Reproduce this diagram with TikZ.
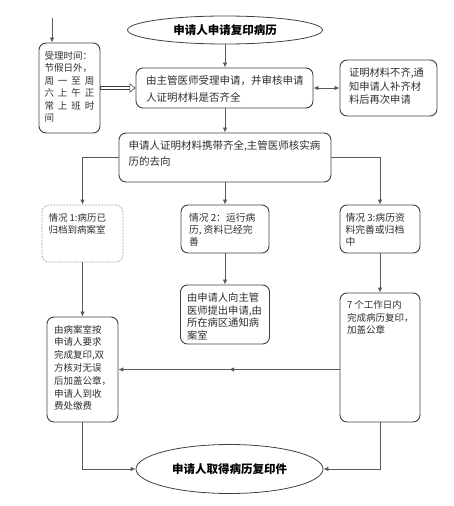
\documentclass[tikz,border=0pt]{standalone}
\usepackage{fontspec}
\setmainfont{Noto Sans CJK SC}
\usepackage{xcolor}
\usetikzlibrary{arrows.meta, positioning, shapes.geometric, calc, decorations.markings}

\definecolor{linegray}{HTML}{404040}
\definecolor{wiregray}{HTML}{5A5A5A}
\definecolor{textgray}{HTML}{2E2E2E}
\newcommand{\cardtext}[3]{\parbox[c][#2pt][t]{#1pt}{\raggedright #3}}
\newcommand{\fs}[2]{\fontsize{#1}{#2}\selectfont}
\newcommand{\spreadline}[1]{\makebox[\linewidth][s]{#1}}

\begin{document}
\begin{tikzpicture}[
  x=1pt, y=-1pt,
  card/.style={draw=linegray, line width=0.9pt, rounded corners=7pt, inner ysep=8pt, text=textgray, font=\fs{9.5}{12.5}},
  draft/.style={card, draw=gray!70, line width=0.7pt, dash pattern=on 2pt off 1.2pt},
  term/.style={ellipse, draw=linegray, line width=0.8pt, inner sep=1pt, font=\bfseries\fs{11.5}{14}},
  edge/.style={-{Latex[length=5pt, width=4.5pt]}, draw=wiregray, line width=0.8pt},
  hollow/.style={draw=linegray, line width=0.6pt, double=white, double distance=2.6pt, {Bar[width=4pt]}-{Triangle[open, length=6pt, width=9pt]}},
  midarrow/.style={postaction={decorate}, decoration={markings, mark=at position 0.5 with {\arrow{Latex[length=5pt, width=4.5pt]}}}}
]
\useasboundingbox (0,0) rectangle (453,506);

\node[term, minimum width=195pt, minimum height=28pt] (apply) at (225,30) {申请人申请复印病历};
\node[card, inner xsep=5.5pt] (hours) at (69.5,88) {\cardtext{50}{74}{受理时间：\\节假日外，\\\spreadline{周 一 至 周}\\\spreadline{六 上 午 正}\\\spreadline{常 上 班 时}\\间}};
\node[card, inner xsep=10pt, font=\fs{10.5}{17}] (review) at (224.5,88) {\cardtext{157}{24}{由主管医师受理申请，并审核申请\\人证明材料是否齐全}};
\node[card, inner xsep=9pt, font=\fs{10.3}{13.5}] (missing) at (388.5,88) {\cardtext{79}{40}{证明材料不齐,通\\知申请人补齐材\\料后再次申请}};
\node[card, inner xsep=9.5pt, font=\fs{10.5}{16}] (route) at (225,157.5) {\cardtext{193}{33}{申请人证明材料携带齐全,主管医师核实病\\历的去向}};

\node[draft, inner xsep=6.5pt, font=\fs{9.5}{12}] (casea) at (82.5,233.5) {\cardtext{68}{41}{情况 1:病历已\\归档到病案室}};
\node[card, inner xsep=8pt, font=\fs{9.8}{12}] (caseb) at (225,229) {\cardtext{72}{32}{情况 2：运行病\\历, 资料已经完\\善}};
\node[card, inner xsep=5.5pt, font=\fs{9.8}{12}] (casec) at (380,229) {\cardtext{69}{32}{情况 3:病历资\\料完善或归档\\中}};

\node[card, inner xsep=7pt, font=\fs{9.5}{12.8}] (archive) at (82.5,369.5) {\cardtext{57}{89}{由病案室按\\申请人要求\\完成复印,双\\方核对无误\\后加盖公章，\\申请人到收\\费处缴费}};
\node[card, inner xsep=6.5pt, font=\fs{10.3}{12.5}] (ward) at (225,314.5) {\cardtext{76}{43}{由申请人向主管\\医师提出申请,由\\所在病区通知病\\案室}};
\node[card, inner xsep=7pt] (copy) at (380,357.5) {\cardtext{66}{113}{7 个工作日内\\完成病历复印，\\加盖公章}};

\node[term, minimum width=187pt, minimum height=49pt] (done) at (229.5,469) {申请人取得病历复印件};

\coordinate (entry) at (52,18);
\draw[edge] (entry) -- (entry |- hours.north);
\draw[edge] (apply) -- (apply |- review.north);
\draw[hollow] (hours) -- (review);
\draw[edge, {Latex[length=5pt, width=4.5pt]}-{Latex[length=5pt, width=4.5pt]}] (review) -- (missing);
\draw[edge] (review.south -| route) -- (route);
\draw[edge] (route.west) -| (casea.north);
\draw[edge] (route) -- (caseb);
\draw[edge] (route.east) -| (casec.north);
\draw[edge] (casea) -- (archive);
\draw[edge] (caseb) -- (ward);
\draw[edge] (casec) -- (copy);
\draw[edge, midarrow] (copy.west |- archive.east) -- (archive.east);
\draw[edge] (archive.south) |- (done.west);
\draw[edge] (copy.south) |- (done.east);
\end{tikzpicture}
\end{document}
